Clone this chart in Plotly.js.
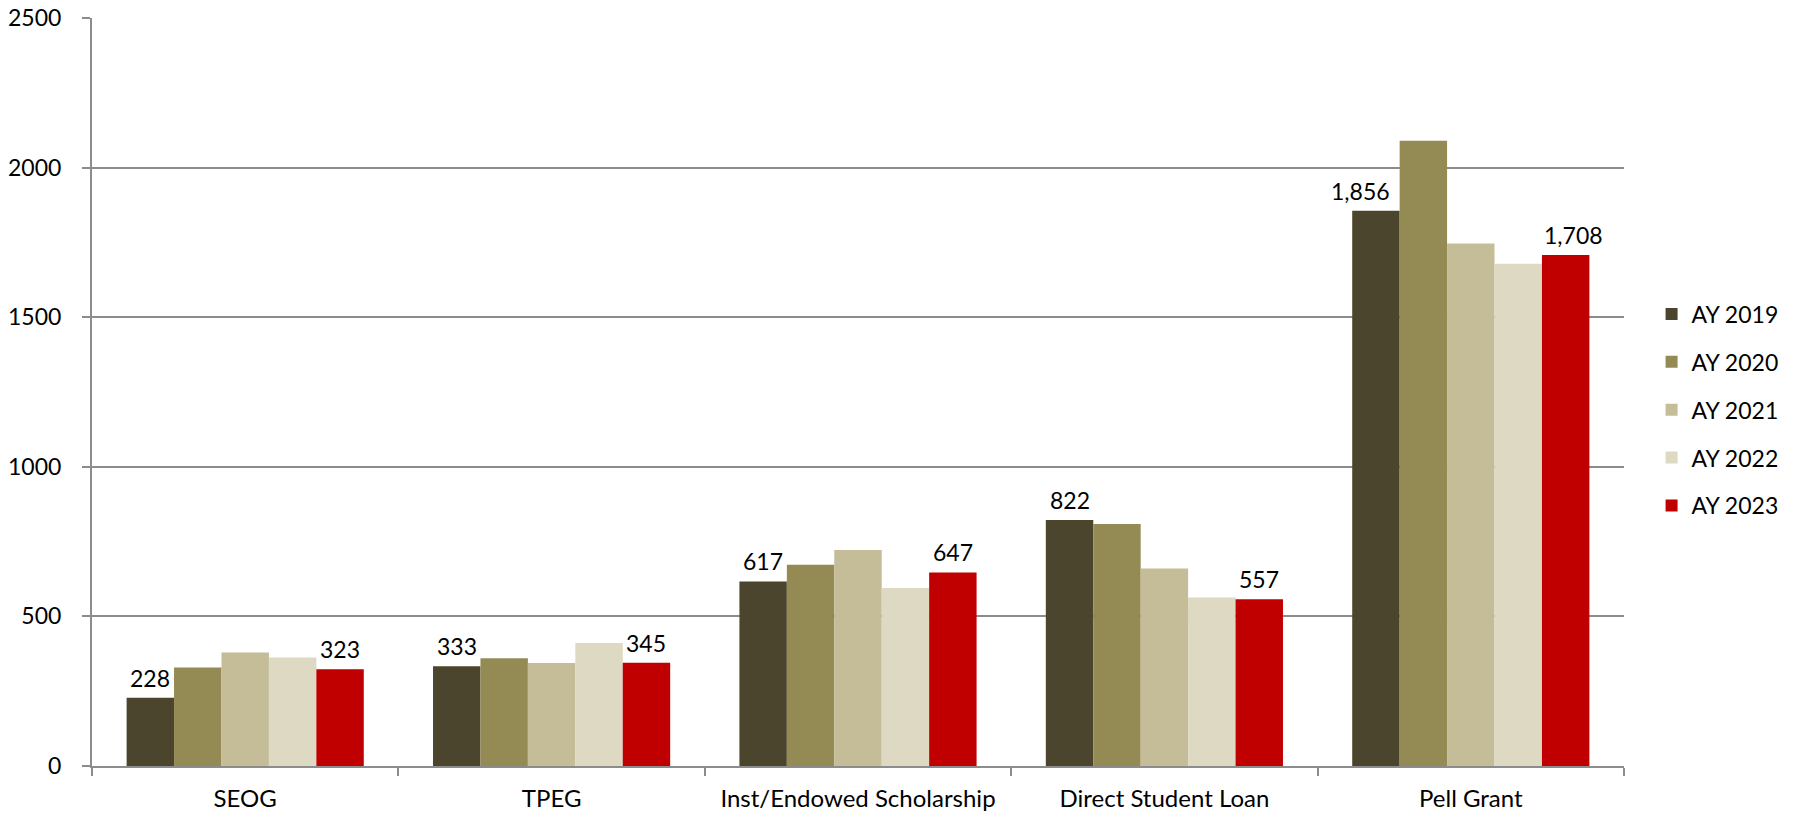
<!DOCTYPE html>
<html>
<head>
<meta charset="utf-8">
<script src="https://cdn.plot.ly/plotly-3.0.1.min.js"></script>
<style>html,body{margin:0;padding:0;background:#fff;}#chart{width:1796px;height:814px;}</style>
</head>
<body>
<div id="chart"></div>
<script>
const categories = ["SEOG", "TPEG", "Inst/Endowed Scholarship", "Direct Student Loan", "Pell Grant"];
const seriesNames = ["AY 2019", "AY 2020", "AY 2021", "AY 2022", "AY 2023"];
const ay2019 = [228, 333, 617, 822, 1856];
const ay2020 = [329, 360, 673, 809, 2090];
const ay2021 = [379, 344, 722, 660, 1746];
const ay2022 = [363, 411, 595, 563, 1679];
const ay2023 = [323, 345, 647, 557, 1708];
const labelled = [true, false, false, false, true];
const colors = ["#4A452C", "#948A54", "#C4BD97", "#DDD9C3", "#C00000"];
const yTicks = [0, 500, 1000, 1500, 2000, 2500];

const FONT = "Lato, 'Open Sans', sans-serif";
const allSeries = [ay2019, ay2020, ay2021, ay2022, ay2023];

const W = 1796, H = 814;
const margin = {l: 92, r: 172, t: 18, b: 48};
const bargap = 0.226;

const traces = allSeries.map((vals, i) => ({
  type: "bar",
  name: seriesNames[i],
  x: categories,
  y: vals,
  legendgroup: "g" + i,
  marker: {color: colors[i], line: {width: 0}},
  hoverinfo: "x+y+name"
}));

// data labels placed over each labelled bar (bar slot offset from the grouped layout)
const plotW = W - margin.l - margin.r;
const slotPx = (plotW / categories.length) * (1 - bargap) / allSeries.length;
// label nudges (style only) mimicking the source's collision avoidance on the tallest group
const nudge = {"0|Pell Grant": -15, "4|Pell Grant": 8};
const annotations = [];
allSeries.forEach((vals, i) => {
  if (!labelled[i]) return;
  vals.forEach((v, j) => {
    annotations.push({
      xref: "x", yref: "y",
      x: categories[j], y: v,
      text: v.toLocaleString("en-US"),
      showarrow: false,
      xanchor: "center", yanchor: "bottom",
      xshift: (i - (allSeries.length - 1) / 2) * slotPx + (nudge[i + "|" + categories[j]] || 0),
      yshift: 4,
      font: {family: FONT, size: 23, color: "#000"}
    });
  });
});

const layout = {
  width: W,
  height: H,
  margin: margin,
  paper_bgcolor: "#fff",
  plot_bgcolor: "#fff",
  font: {family: FONT, size: 23, color: "#000"},
  barmode: "group",
  bargap: bargap,
  bargroupgap: 0,
  annotations: annotations,
  showlegend: true,
  legend: {
    x: 1.018, xanchor: "left",
    y: 0.476, yanchor: "middle",
    traceorder: "grouped",
    tracegroupgap: 15,
    font: {family: FONT, size: 23, color: "#000"},
    itemwidth: 30,
    bgcolor: "rgba(0,0,0,0)"
  },
  xaxis: {
    type: "category",
    showline: true, linecolor: "#8C8C8C", linewidth: 2,
    ticks: "outside", tickson: "boundaries", ticklen: 8, tickwidth: 2, tickcolor: "#8C8C8C",
    showgrid: false, zeroline: false,
    ticklabelstandoff: 10,
    tickfont: {family: FONT, size: 24, color: "#000"}
  },
  yaxis: {
    range: [0, 2500],
    tickvals: yTicks,
    ticktext: yTicks.map(String),
    showline: true, linecolor: "#8C8C8C", linewidth: 2,
    ticks: "outside", ticklen: 8, tickwidth: 2, tickcolor: "#8C8C8C",
    showgrid: true, gridcolor: "#8C8C8C", gridwidth: 2,
    zeroline: false,
    ticklabelstandoff: 16,
    tickfont: {family: FONT, size: 23, color: "#000"}
  }
};

Plotly.newPlot("chart", traces, layout, {displayModeBar: false, staticPlot: true});
</script>
</body>
</html>
